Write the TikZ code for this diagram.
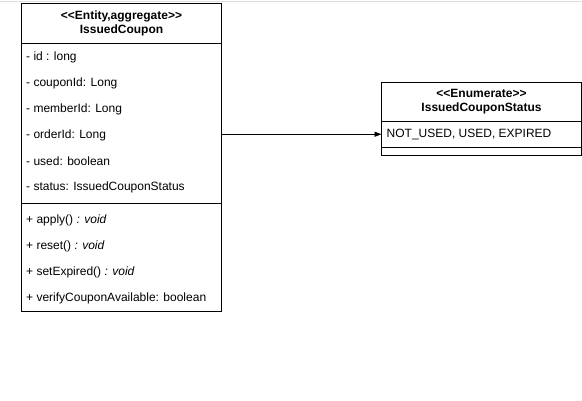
\documentclass[tikz,border=0pt]{standalone}
\usepackage{fontspec}
\setmainfont{Liberation Sans}
\usepackage{tikz}
\usetikzlibrary{arrows.meta,positioning}
\definecolor{rule}{HTML}{DDDDDD}
\definecolor{ink}{HTML}{000000}

\begin{document}
\begin{tikzpicture}[x=1pt,y=-1pt,every node/.style={font=\fontsize{12}{14}\selectfont,text=ink},comp/.style={draw=ink,line width=0.9pt,minimum width=200pt,inner sep=0pt,outer sep=0pt,anchor=north},hdr/.style={comp,minimum height=#1,align=center,font=\fontsize{12}{14}\selectfont\bfseries},row/.style={anchor=west,inner sep=0pt}]
\useasboundingbox (0,0) rectangle (582,401);
\draw[rule,line width=1pt] (0,2) -- (582,2);
% class IssuedCoupon
\node[hdr=40pt] (ichead) at (121.5,3) {<{}<Entity,aggregate>{}>\\IssuedCoupon};
\node[comp,below=0pt of ichead,minimum height=160pt] (icattr) {};
\node[comp,below=0pt of icattr,minimum height=108pt] (icops) {};
\foreach \t [count=\i from 0] in {- id : long,- couponId: Long,- memberId: Long,- orderId: Long,- used: boolean,- status: IssuedCouponStatus}
  \node[row] (attr\i) at (26,57.5+26*\i) {\t};
\foreach \t [count=\i from 0] in {+ apply() \textit{: void},+ reset() \textit{: void},+ setExpired() \textit{: void},+ verifyCouponAvailable: boolean}
  \node[row] (op\i) at (26,220.5+26*\i) {\t};
% enum IssuedCouponStatus
\node[hdr=39.5pt] (sthead) at (481.5,82) {<{}<Enumerate>{}>\\IssuedCouponStatus};
\node[comp,below=0pt of sthead,minimum height=25.5pt] (stval) {};
\node[comp,below=0pt of stval,minimum height=8.5pt] (stops) {};
\node[row] (stlit) at (386.5,134.5) {NOT\_USED, USED, EXPIRED};
\draw[-{Triangle[length=7pt,width=5pt]},line width=0.9pt,ink] (icattr.east |- stval.west) -- (stval.west);
\end{tikzpicture}
\end{document}
